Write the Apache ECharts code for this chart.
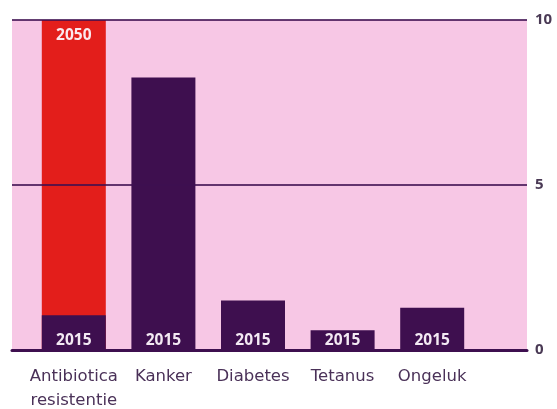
<!DOCTYPE html>
<html>
<head>
<meta charset="utf-8">
<script src="https://cdn.jsdelivr.net/npm/echarts@6/dist/echarts.min.js"></script>
<style>html,body{margin:0;padding:0;background:#fff}#c{width:557px;height:409px}</style>
</head>
<body>
<div id="c"></div>
<script>
var categories = ['Antibiotica\nresistentie', 'Kanker', 'Diabetes', 'Tetanus', 'Ongeluk'];
var values2015 = [1.05, 8.26, 1.5, 0.6, 1.28];
var values2050 = [10, null, null, null, null];
var label2015 = '2015';
var label2050 = '2050';
var yTicks = [0, 5, 10];

var chart = echarts.init(document.getElementById('c'), null, {renderer: 'canvas'});
var purple = '#3e0f4f';
chart.setOption({
  animation: false,
  grid: [
    {left: 12, right: 30, top: 20, bottom: 59, show: true, backgroundColor: '#f7c7e5', borderWidth: 0, outerBoundsMode: 'none', containLabel: false},
    {left: 29, right: 80, top: 20, bottom: 59, outerBoundsMode: 'none', containLabel: false}
  ],
  xAxis: [
    {gridIndex: 0, type: 'value', min: 0, max: 1, axisLabel: {show: false}, axisTick: {show: false},
     splitLine: {show: false}, axisLine: {show: true, lineStyle: {color: purple, width: 3}}, z: 5},
    {gridIndex: 1, type: 'category', data: categories, axisLine: {show: false}, axisTick: {show: false},
     axisLabel: {interval: 0, color: '#4a3158', fontFamily: 'DejaVu Sans', fontSize: 16.5, margin: 15, lineHeight: 24}}
  ],
  yAxis: [
    {gridIndex: 0, type: 'value', position: 'right', min: 0, max: 10, interval: 5,
     axisLine: {show: false}, axisTick: {show: false},
     axisLabel: {color: '#4a3a55', fontFamily: 'Open Sans', fontWeight: 'bold', fontSize: 15, margin: 8,
       formatter: function (v) { return yTicks.indexOf(v) >= 0 ? String(v) : ''; }},
     splitLine: {show: true, lineStyle: {color: 'rgba(61,15,80,0.8)', width: 2}}, z: 4},
    {gridIndex: 1, type: 'value', min: 0, max: 10, show: false}
  ],
  series: [
    {type: 'bar', xAxisIndex: 1, yAxisIndex: 1, data: values2050, barWidth: 64, barGap: '-100%',
     itemStyle: {color: '#e31e1b'},
     label: {show: true, position: 'insideTop', distance: 8, formatter: label2050, color: '#fbe8ee',
       fontFamily: 'Open Sans', fontWeight: 'bold', fontSize: 15.5}},
    {type: 'bar', xAxisIndex: 1, yAxisIndex: 1, data: values2015, barWidth: 64, barGap: '-100%',
     itemStyle: {color: purple},
     label: {show: true, position: 'insideBottom', distance: 1, formatter: label2015, color: '#f3e9f3',
       fontFamily: 'Open Sans', fontWeight: 'bold', fontSize: 15.5}}
  ]
});
</script>
</body>
</html>
